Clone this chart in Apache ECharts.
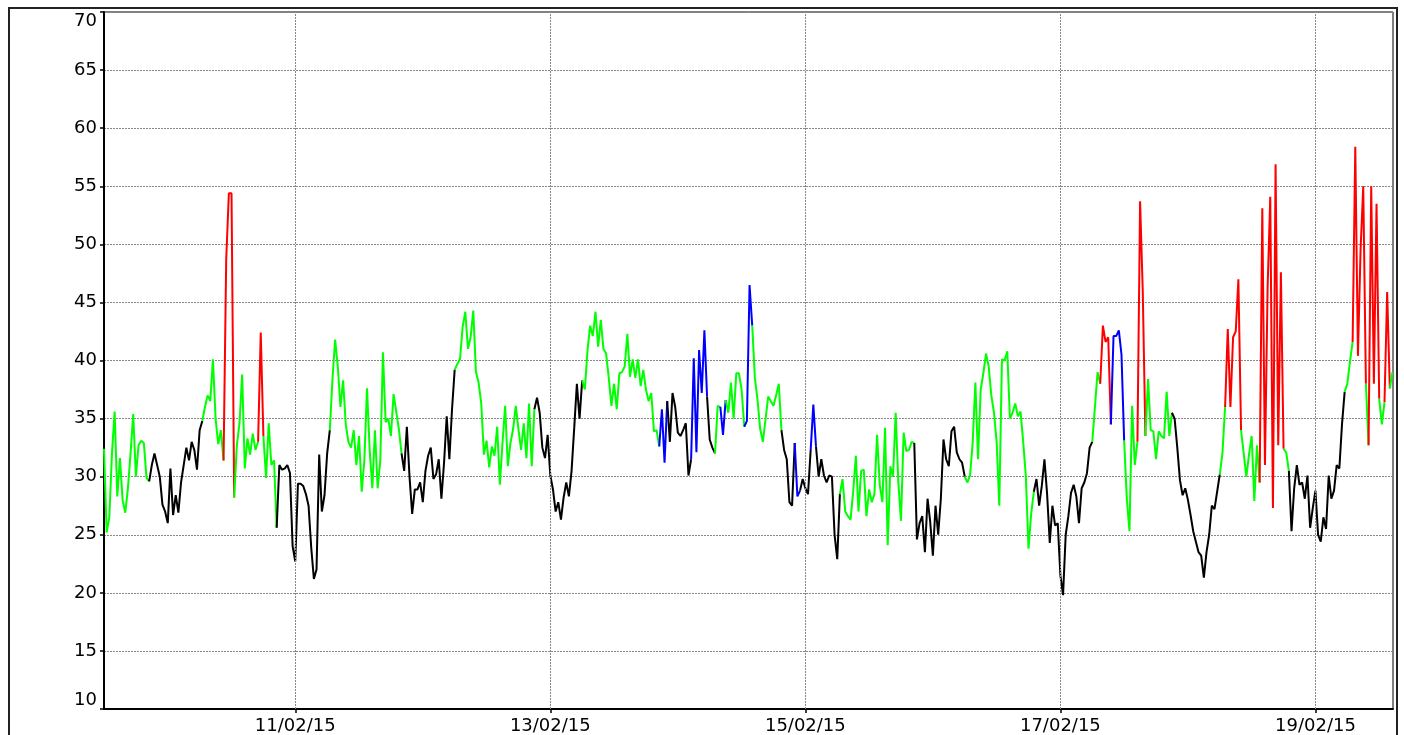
<!DOCTYPE html>
<html>
<head>
<meta charset="utf-8">
<script src="https://cdn.jsdelivr.net/npm/echarts@6/dist/echarts.min.js"></script>
<style>
html,body{margin:0;padding:0;background:#ffffff;}
#chart{width:1404px;height:735px;}
</style>
</head>
<body>
<div id="chart"></div>
<script>
// Time axis: hours since 09/02/15 12:00, one reading every half hour
const stepHours = 0.5;
const xMaxHours = 242.6;

// Readings (half-hourly)
const values = [
32.4,25.2,26.5,32.0,35.6,28.3,31.6,28.0,26.9,29.0,32.0,35.4,30.0,32.7,33.1,32.9,29.9,29.6,31.0,32.0,
31.0,30.0,27.6,27.0,26.0,30.7,26.7,28.4,26.9,29.5,31.0,32.5,31.4,33.0,32.3,30.6,34.0,34.8,36.0,37.0,
36.5,40.1,35.0,32.8,34.0,31.4,48.7,54.4,54.4,28.2,32.7,34.6,38.8,30.7,33.3,31.9,33.7,32.3,33.0,42.4,
33.5,29.9,34.6,31.0,31.4,25.6,31.0,30.6,30.7,31.0,30.3,24.0,22.7,29.4,29.4,29.2,28.5,27.5,23.9,21.2,
22.0,31.9,27.0,28.4,32.0,34.0,38.4,41.8,39.5,36.0,38.3,34.5,33.0,32.5,34.0,31.0,33.5,28.7,31.4,37.6,
32.3,29.0,34.0,29.0,31.4,40.7,34.7,35.0,33.5,37.1,35.6,34.1,32.0,30.5,34.3,30.0,26.8,28.9,28.9,29.5,
27.8,30.5,31.8,32.5,29.8,30.2,31.5,28.1,31.2,35.2,31.5,35.8,39.2,39.7,40.1,42.9,44.2,41.0,42.0,44.3,
39.0,38.1,36.3,31.9,33.1,30.8,32.6,31.8,34.3,29.3,32.9,36.1,30.9,32.9,34.1,36.1,34.1,32.3,34.6,31.6,
36.3,30.9,35.8,36.8,35.5,32.5,31.6,33.6,30.1,28.9,27.0,27.8,26.3,28.2,29.5,28.3,30.5,34.2,38.0,35.0,
38.3,37.5,40.9,43.0,42.1,44.2,41.2,43.5,41.0,40.6,38.5,36.1,38.0,35.8,38.9,39.0,39.5,42.3,38.6,40.1,
38.5,40.1,37.8,39.2,37.5,36.5,37.2,33.9,34.0,32.6,35.8,31.2,36.5,33.0,37.2,36.0,33.8,33.5,34.0,34.6,
30.1,31.5,40.2,32.1,40.9,37.2,42.6,36.9,33.2,32.5,32.0,36.1,36.0,33.6,36.6,35.5,38.1,35.0,38.9,38.9,
37.5,34.3,34.8,46.5,43.0,38.5,36.6,34.1,33.0,34.9,36.9,36.5,36.1,37.0,38.0,34.0,32.3,31.5,27.8,27.5,
32.9,28.3,28.8,29.8,29.0,28.5,32.3,36.2,32.6,30.0,31.5,30.1,29.5,30.1,30.0,25.0,22.9,28.5,29.8,27.0,
26.6,26.3,28.7,31.8,27.0,30.5,30.6,26.6,28.9,27.8,28.5,33.6,29.3,27.8,34.2,24.1,30.9,30.0,35.5,29.5,
26.2,33.8,32.2,32.3,33.0,32.9,24.6,26.0,26.6,23.5,28.1,26.1,23.2,27.5,25.0,28.1,33.2,31.5,30.9,33.9,
34.3,32.1,31.5,31.2,30.0,29.5,30.1,33.0,38.1,31.5,37.5,38.9,40.6,39.5,37.0,35.5,33.0,27.5,40.1,40.0,
40.8,35.0,35.5,36.3,35.2,35.6,33.0,30.0,23.8,26.8,28.7,29.8,27.5,29.2,31.5,28.5,24.3,27.5,25.8,26.0,
21.5,19.8,25.0,26.6,28.6,29.3,28.3,26.0,29.0,29.5,30.3,32.5,33.0,36.0,39.0,38.0,43.0,41.6,42.0,34.5,
42.1,42.1,42.6,40.5,33.1,28.1,25.3,36.1,31.0,33.0,53.7,46.0,33.5,38.4,34.0,33.9,31.5,33.9,33.5,33.3,
37.3,33.5,35.5,35.0,32.5,29.7,28.4,29.0,28.0,26.7,25.3,24.4,23.5,23.2,21.3,23.5,25.0,27.5,27.2,28.7,
30.2,32.0,36.0,42.7,36.0,42.0,42.5,47.0,34.0,32.0,30.0,31.9,33.5,27.9,32.7,29.5,53.1,31.0,46.3,54.1,
27.3,56.9,32.7,47.6,32.4,32.1,30.5,25.3,29.0,31.0,29.3,29.5,28.1,30.1,25.6,27.3,28.8,25.0,24.4,26.5,
25.5,30.1,28.1,28.8,31.0,30.7,34.5,37.3,38.0,39.9,41.6,58.4,40.4,49.6,55.0,38.0,32.7,55.0,38.0,53.5,
36.7,34.5,36.4,45.9,37.6,39.0
];

// Colour class of the line from a reading index onwards
const colorRuns = [
[0,'green'],[17,'black'],[37,'green'],[45,'red'],[49,'green'],[58,'red'],[60,'green'],[65,'black'],
[85,'green'],[112,'black'],[132,'green'],[162,'black'],[180,'green'],[209,'blue'],[212,'black'],
[221,'blue'],[227,'black'],[230,'green'],[232,'blue'],[234,'green'],[241,'blue'],[244,'green'],
[255,'black'],[260,'blue'],[262,'black'],[266,'blue'],[268,'black'],[277,'green'],[305,'black'],
[324,'green'],[350,'black'],[372,'green'],[375,'red'],[379,'blue'],[384,'green'],[389,'red'],
[392,'green'],[402,'black'],[420,'green'],[422,'red'],[428,'green'],[435,'red'],[444,'green'],
[446,'black'],[467,'green'],[470,'red'],[475,'green'],[476,'red'],[480,'green'],[482,'red'],[484,'green']
];

const palette = {green:'#00ff00', black:'#000000', red:'#ff0000', blue:'#0000ff'};

// X tick positions (hours since 09/02/15 12:00) and their labels
const xTickHours = [36, 84, 132, 180, 228];
const xTickLabels = ['11/02/15', '13/02/15', '15/02/15', '17/02/15', '19/02/15'];

// Y axis
const yMin = 10, yMax = 70, yStep = 5;

const chart = echarts.init(document.getElementById('chart'), null, {renderer:'canvas'});

const series = colorRuns.map((run, k) => {
  const s = run[0];
  const e = (k + 1 < colorRuns.length) ? colorRuns[k + 1][0] : values.length - 1;
  const data = [];
  for (let j = s; j <= e; j++) data.push([j * stepHours, values[j]]);
  return {
    type: 'line', data: data, symbol: 'none', showSymbol: false,
    lineStyle: {color: palette[run[1]], width: 2},
    itemStyle: {color: palette[run[1]]},
    animation: false, silent: true, z: 3
  };
});

// vertical grid lines at the date ticks
series.push({
  type: 'line', data: [], z: 1, silent: true, animation: false,
  markLine: {
    silent: true, symbol: ['none', 'none'], animation: false,
    label: {show: false},
    lineStyle: {color: '#888888', type: [2, 1], width: 1},
    data: xTickHours.map(h => ({xAxis: h}))
  }
});

const labelFont = {color: '#000', fontSize: 18, fontFamily: 'DejaVu Sans'};

chart.setOption({
  animation: false,
  backgroundColor: '#ffffff',
  grid: {left: 104, right: 11, top: 12, bottom: 26, show: true, borderColor: '#000', borderWidth: 1, backgroundColor: 'transparent'},
  xAxis: {
    type: 'value', min: 0, max: xMaxHours,
    axisLine: {show: true, onZero: false, lineStyle: {color: '#000', width: 2}},
    axisTick: {show: true, customValues: xTickHours, length: 4, lineStyle: {color: '#000', width: 1.5}},
    axisLabel: Object.assign({
      customValues: xTickHours, margin: 8,
      formatter: function (v) {
        const i = xTickHours.indexOf(Math.round(v));
        return i >= 0 ? xTickLabels[i] : '';
      }
    }, labelFont),
    splitLine: {show: false}
  },
  yAxis: {
    type: 'value', min: yMin, max: yMax, interval: yStep,
    axisLine: {show: true, lineStyle: {color: '#000', width: 2}},
    axisTick: {show: true, length: 4, lineStyle: {color: '#000', width: 1.5}},
    axisLabel: Object.assign({margin: 7, verticalAlignMinLabel: 'bottom', verticalAlignMaxLabel: 'top'}, labelFont),
    splitLine: {show: true, lineStyle: {color: '#888888', type: [2, 1], width: 1}}
  },
  graphic: [{
    type: 'rect', silent: true, z: 100,
    shape: {x: 9, y: 8, width: 1388, height: 800},
    style: {fill: 'none', stroke: '#222', lineWidth: 2}
  }],
  series: series
});
</script>
</body>
</html>
